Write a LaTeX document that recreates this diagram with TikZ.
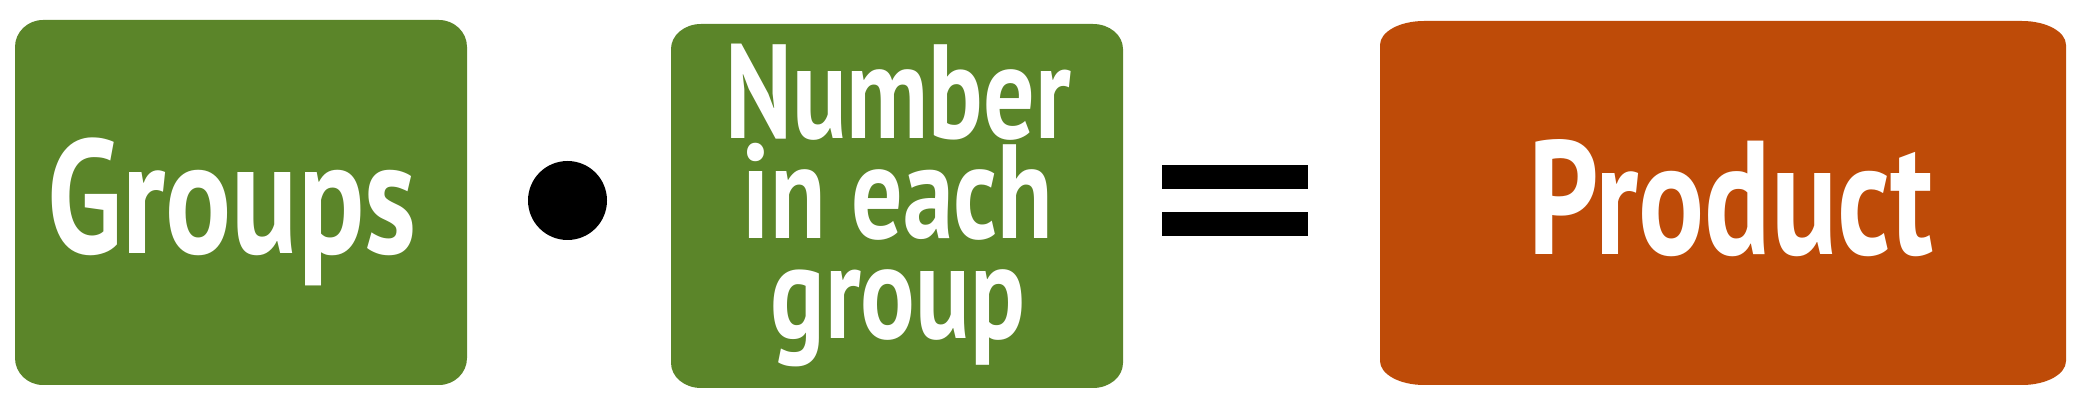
\documentclass[tikz,border=0pt]{standalone}
\usepackage{fontspec}
\setmainfont{PT Sans}
\newfontfamily\cond{PT Sans}[FakeStretch=0.76]
\definecolor{grn}{HTML}{5B8529}
\definecolor{org}{HTML}{BE4B08}
\newcommand\eboxdraw[7]{%
  \fill[#1] (#2+#6,#3) -- (#4-#6,#3)
    arc[start angle=90,end angle=0,x radius=#6*0.5pt,y radius=#7*0.5pt]
    -- (#4,#5-#7)
    arc[start angle=0,end angle=-90,x radius=#6*0.5pt,y radius=#7*0.5pt]
    -- (#2+#6,#5)
    arc[start angle=-90,end angle=-180,x radius=#6*0.5pt,y radius=#7*0.5pt]
    -- (#2,#3+#7)
    arc[start angle=180,end angle=90,x radius=#6*0.5pt,y radius=#7*0.5pt]
    -- cycle;}
\newcommand\tightlines{\setlength{\lineskiplimit}{-60pt}}
\tikzset{
  lbl/.style={text=white, inner sep=0pt, outer sep=0pt},
  big/.style={lbl, font=\cond\bfseries\fontsize{81pt}{81pt}\selectfont},
  mid/.style={lbl, align=center, font=\cond\bfseries\fontsize{67pt}{50pt}\selectfont\tightlines},
}
\begin{document}
\begin{tikzpicture}[x=0.5pt,y=-0.5pt]
\useasboundingbox (0,0) rectangle (2083,405);
% boxes
\eboxdraw{grn}{15}{20}{467}{385}{28}{27}
\eboxdraw{grn}{671}{24}{1123}{388}{30}{25}
\eboxdraw{org}{1380}{21}{2066}{385}{44}{24}
% texts
\node[big, anchor=base] (groups) at (232,254) {Groups};
\node[mid, anchor=north] (number) at (898,44) {Number\\in each\\group};
\node[big, anchor=base] (product) at (1731,255) {Product};
% dot
\node[circle, fill=black, inner sep=0pt, minimum size=39.5pt] (dot) at (567.5,200.5) {};
% equals
\fill[black] (1162,165) rectangle (1308,189);
\fill[black] (1162,212) rectangle (1308,236);
\end{tikzpicture}
\end{document}
